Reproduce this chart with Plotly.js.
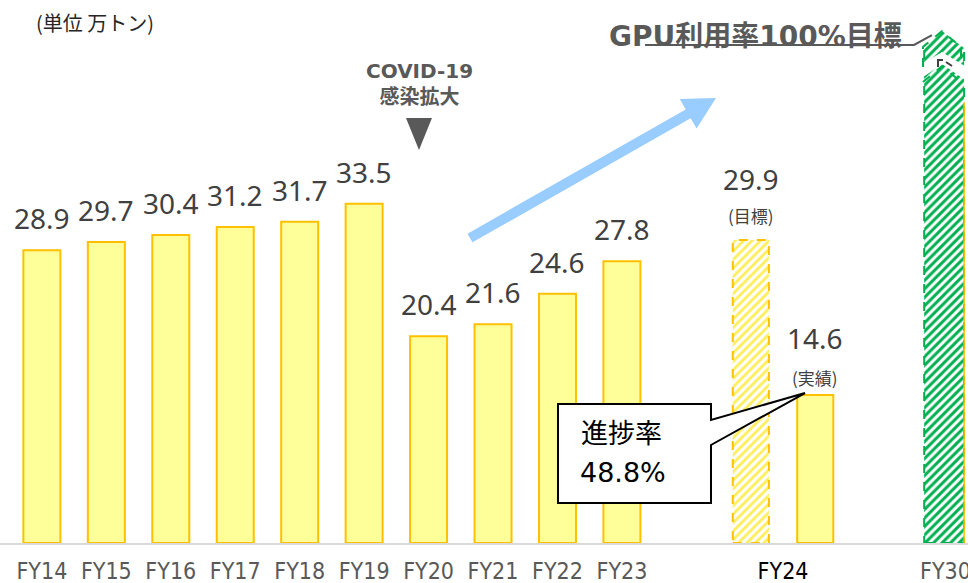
<!DOCTYPE html>
<html>
<head>
<meta charset="utf-8">
<script src="https://cdn.plot.ly/plotly-3.0.1.min.js"></script>
<style>html,body{margin:0;padding:0;background:#fff;}#chart{width:968px;height:583px;}</style>
</head>
<body>
<div id="chart"></div>
<script>
// ---- data ----
const categories = ['FY14','FY15','FY16','FY17','FY18','FY19','FY20','FY21','FY22','FY23'];
const values = [28.9, 29.7, 30.4, 31.2, 31.7, 33.5, 20.4, 21.6, 24.6, 27.8];
const xPositions = [0, 1, 2, 3, 4, 5, 6, 7, 8, 9];
const fy24Label = 'FY24';
const fy24TargetX = 11, fy24Target = 29.9;
const fy24ActualX = 12, fy24Actual = 14.6;
const fy30Label = 'FY30';
const fy30X = 14, fy30Display = 50.6;   // bar is drawn broken (truncated)
const tickVals = [0,1,2,3,4,5,6,7,8,9,11.5,14.02];
const tickText = ['FY14','FY15','FY16','FY17','FY18','FY19','FY20','FY21','FY22','FY23',
                  '<span style="color:#000000">FY24</span>','FY30'];
const progressRate = '48.8%';

// ---- geometry helpers ----
const W = 968, PH = 543;
const px = x => x / W;
const py = y => 1 - y / PH;
function pathPx(pts, close) {
  return pts.map((p, i) => (i ? 'L' : 'M') + px(p[0]).toFixed(5) + ',' + py(p[1]).toFixed(5)).join(' ') + (close ? ' Z' : '');
}

const barW = 0.574;
const yellowFill = '#FFFF99', yellowLine = '#FFC000';

const traces = [
  { type: 'bar', x: xPositions, y: values, width: barW,
    marker: { color: yellowFill, line: { color: yellowLine, width: 2 } }, hoverinfo: 'skip' },
  { type: 'bar', x: [fy24TargetX], y: [fy24Target], width: 0.56,
    marker: { color: '#FFFFFF', pattern: { shape: '/', fgcolor: '#FFEE55', bgcolor: '#FFFFFF', size: 6, solidity: 0.45 },
              line: { width: 0 } }, hoverinfo: 'skip' },
  { type: 'bar', x: [fy24ActualX], y: [fy24Actual], width: 0.56,
    marker: { color: yellowFill, line: { color: yellowLine, width: 2 } }, hoverinfo: 'skip' },
  { type: 'bar', x: [fy30X], y: [fy30Display], width: 0.62,
    marker: { color: '#FFFFFF', pattern: { shape: '/', fgcolor: '#00B050', bgcolor: '#FFFFFF', size: 6, solidity: 0.5 },
              line: { width: 0 } }, hoverinfo: 'skip' }
];

const labelFont = { family: 'Noto Sans, DejaVu Sans, sans-serif', size: 28, color: '#404040' };
const annotations = [];
xPositions.forEach((x, i) => {
  annotations.push({ x: x, y: values[i], xref: 'x', yref: 'y', text: values[i].toFixed(1),
    showarrow: false, yanchor: 'middle', yshift: 32, font: labelFont });
});
annotations.push({ x: fy24TargetX, y: fy24Target, xref: 'x', yref: 'y', text: fy24Target.toFixed(1),
  showarrow: false, yanchor: 'middle', yshift: 61, font: labelFont });
annotations.push({ x: fy24TargetX, y: fy24Target, xref: 'x', yref: 'y', text: '(目標)',
  showarrow: false, yanchor: 'middle', yshift: 25, font: { family: 'Noto Sans CJK JP', size: 17, color: '#404040' } });
annotations.push({ x: fy24ActualX, y: fy24Actual, xref: 'x', yref: 'y', text: fy24Actual.toFixed(1),
  showarrow: false, yanchor: 'middle', yshift: 57, font: labelFont });
annotations.push({ x: fy24ActualX, y: fy24Actual, xref: 'x', yref: 'y', text: '(実績)',
  showarrow: false, yanchor: 'middle', yshift: 18, font: { family: 'Noto Sans CJK JP', size: 17, color: '#404040' } });

// unit
annotations.push({ x: px(34), y: py(22), xref: 'paper', yref: 'paper', xanchor: 'left', yanchor: 'middle',
  text: '(単位 万トン)', showarrow: false, font: { family: 'Noto Sans CJK JP', size: 20, color: '#262626' } });
// COVID
annotations.push({ x: px(419), y: py(84), xref: 'paper', yref: 'paper', xanchor: 'center', yanchor: 'middle',
  text: '<b>COVID-19</b><br><b>感染拡大</b>', showarrow: false,
  font: { family: 'DejaVu Sans, Noto Sans CJK JP', size: 20, color: '#595959' } });
// GPU target
annotations.push({ x: px(607), y: py(36), xref: 'paper', yref: 'paper', xanchor: 'left', yanchor: 'middle',
  text: '<b>GPU利用率100%目標</b>', showarrow: false,
  font: { family: 'DejaVu Sans, Noto Sans CJK JP', size: 28, color: '#595959' } });
// callout text
annotations.push({ x: px(579), y: py(431), xref: 'paper', yref: 'paper', xanchor: 'left', yanchor: 'middle',
  text: '進捗率', showarrow: false, font: { family: 'Noto Sans CJK JP', size: 27, color: '#000000' } });
annotations.push({ x: px(578), y: py(472), xref: 'paper', yref: 'paper', xanchor: 'left', yanchor: 'middle',
  text: progressRate, showarrow: false, font: { family: 'DejaVu Sans, Noto Sans', size: 27, color: '#000000' } });

// ---- shapes ----
const shapes = [];
// dashed outlines derived from data
shapes.push({ type: 'rect', xref: 'x', yref: 'y', x0: fy24TargetX - 0.28, x1: fy24TargetX + 0.28, y0: 0, y1: fy24Target,
  line: { color: yellowLine, width: 2, dash: 'dash' }, fillcolor: 'rgba(0,0,0,0)' });
shapes.push({ type: 'rect', xref: 'x', yref: 'y', x0: fy30X - 0.31, x1: fy30X + 0.31, y0: 0, y1: fy30Display,
  line: { color: '#00B050', width: 2, dash: 'dash' }, fillcolor: 'rgba(0,0,0,0)' });
// thin orange edge on right of FY30
shapes.push({ type: 'line', xref: 'x', yref: 'y', x0: fy30X + 0.31, x1: fy30X + 0.31, y0: 0, y1: fy30Display * 0.86,
  line: { color: yellowLine, width: 1.5 } });
// break of the FY30 bar: pointed top and chevron gap
shapes.push({ type: 'path', xref: 'paper', yref: 'paper', path: pathPx([[912,18],[944,18],[942,31],[920,48],[912,48]], true),
  fillcolor: '#FFFFFF', line: { width: 0 } });
shapes.push({ type: 'path', xref: 'paper', yref: 'paper', path: pathPx([[940,18],[968,18],[968,48],[964,48],[942,31]], true),
  fillcolor: '#FFFFFF', line: { width: 0 } });
shapes.push({ type: 'path', xref: 'paper', yref: 'paper', path: pathPx([[916,68],[942,52],[968,68],[968,82],[942,64],[916,82]], true),
  fillcolor: '#FFFFFF', line: { width: 0 } });
shapes.push({ type: 'path', xref: 'paper', yref: 'paper', path: pathPx([[923,67],[923,47],[942,31],[961,47],[961,67]], false),
  line: { color: '#00B050', width: 2, dash: 'dash' } });
shapes.push({ type: 'path', xref: 'paper', yref: 'paper', path: pathPx([[923,82],[942,66],[961,82]], false),
  line: { color: '#00B050', width: 2, dash: 'dash' } });
shapes.push({ type: 'path', xref: 'paper', yref: 'paper', path: pathPx([[938,67],[938,60],[943,60]], false),
  line: { color: '#404040', width: 2 } });
shapes.push({ type: 'path', xref: 'paper', yref: 'paper', path: pathPx([[946,62],[952,66]], false),
  line: { color: '#404040', width: 2 } });
// GPU leader line
shapes.push({ type: 'path', xref: 'paper', yref: 'paper', path: pathPx([[645,45],[914,45],[932,35]], false),
  line: { color: '#595959', width: 2 } });
// COVID triangle
shapes.push({ type: 'path', xref: 'paper', yref: 'paper', path: pathPx([[406,118],[432,118],[419,150]], true),
  fillcolor: '#595959', line: { width: 0 } });
// blue arrow
(function () {
  const tail = [470, 238], tip = [716, 98];
  const dx = tip[0] - tail[0], dy = tip[1] - tail[1];
  const L = Math.hypot(dx, dy), ux = dx / L, uy = dy / L, nx = -uy, ny = ux;
  const sw = 5, hl = 32, hw = 17;
  const bx = tip[0] - ux * hl, by = tip[1] - uy * hl;
  const pts = [
    [tail[0] + nx * sw, tail[1] + ny * sw], [bx + nx * sw, by + ny * sw], [bx + nx * hw, by + ny * hw], tip,
    [bx - nx * hw, by - ny * hw], [bx - nx * sw, by - ny * sw], [tail[0] - nx * sw, tail[1] - ny * sw]
  ];
  shapes.push({ type: 'path', xref: 'paper', yref: 'paper', path: pathPx(pts, true), fillcolor: '#99CCFF', line: { width: 0 } });
})();
// callout box
shapes.push({ type: 'path', xref: 'paper', yref: 'paper',
  path: pathPx([[558,404],[711,404],[711,420],[805,393],[711,445],[711,503],[558,503]], true),
  fillcolor: '#FFFFFF', line: { color: '#000000', width: 2 } });

const layout = {
  width: 968, height: 583,
  margin: { l: 0, r: 0, t: 0, b: 40, pad: 0 },
  paper_bgcolor: '#FFFFFF', plot_bgcolor: '#FFFFFF',
  showlegend: false, barmode: 'overlay',
  xaxis: { range: [-0.65, 14.37], tickvals: tickVals, ticktext: tickText, showgrid: false, zeroline: false,
    showline: true, linecolor: '#D9D9D9', linewidth: 2, ticks: '', ticklabelstandoff: 6, ticklabeloverflow: 'allow',
    tickfont: { family: 'DejaVu Sans Condensed, DejaVu Sans', size: 23, color: '#595959' } },
  yaxis: { range: [0, 53.6], visible: false, showgrid: false, zeroline: false },
  shapes: shapes, annotations: annotations
};

Plotly.newPlot('chart', traces, layout, { staticPlot: true, displayModeBar: false });
</script>
</body>
</html>
